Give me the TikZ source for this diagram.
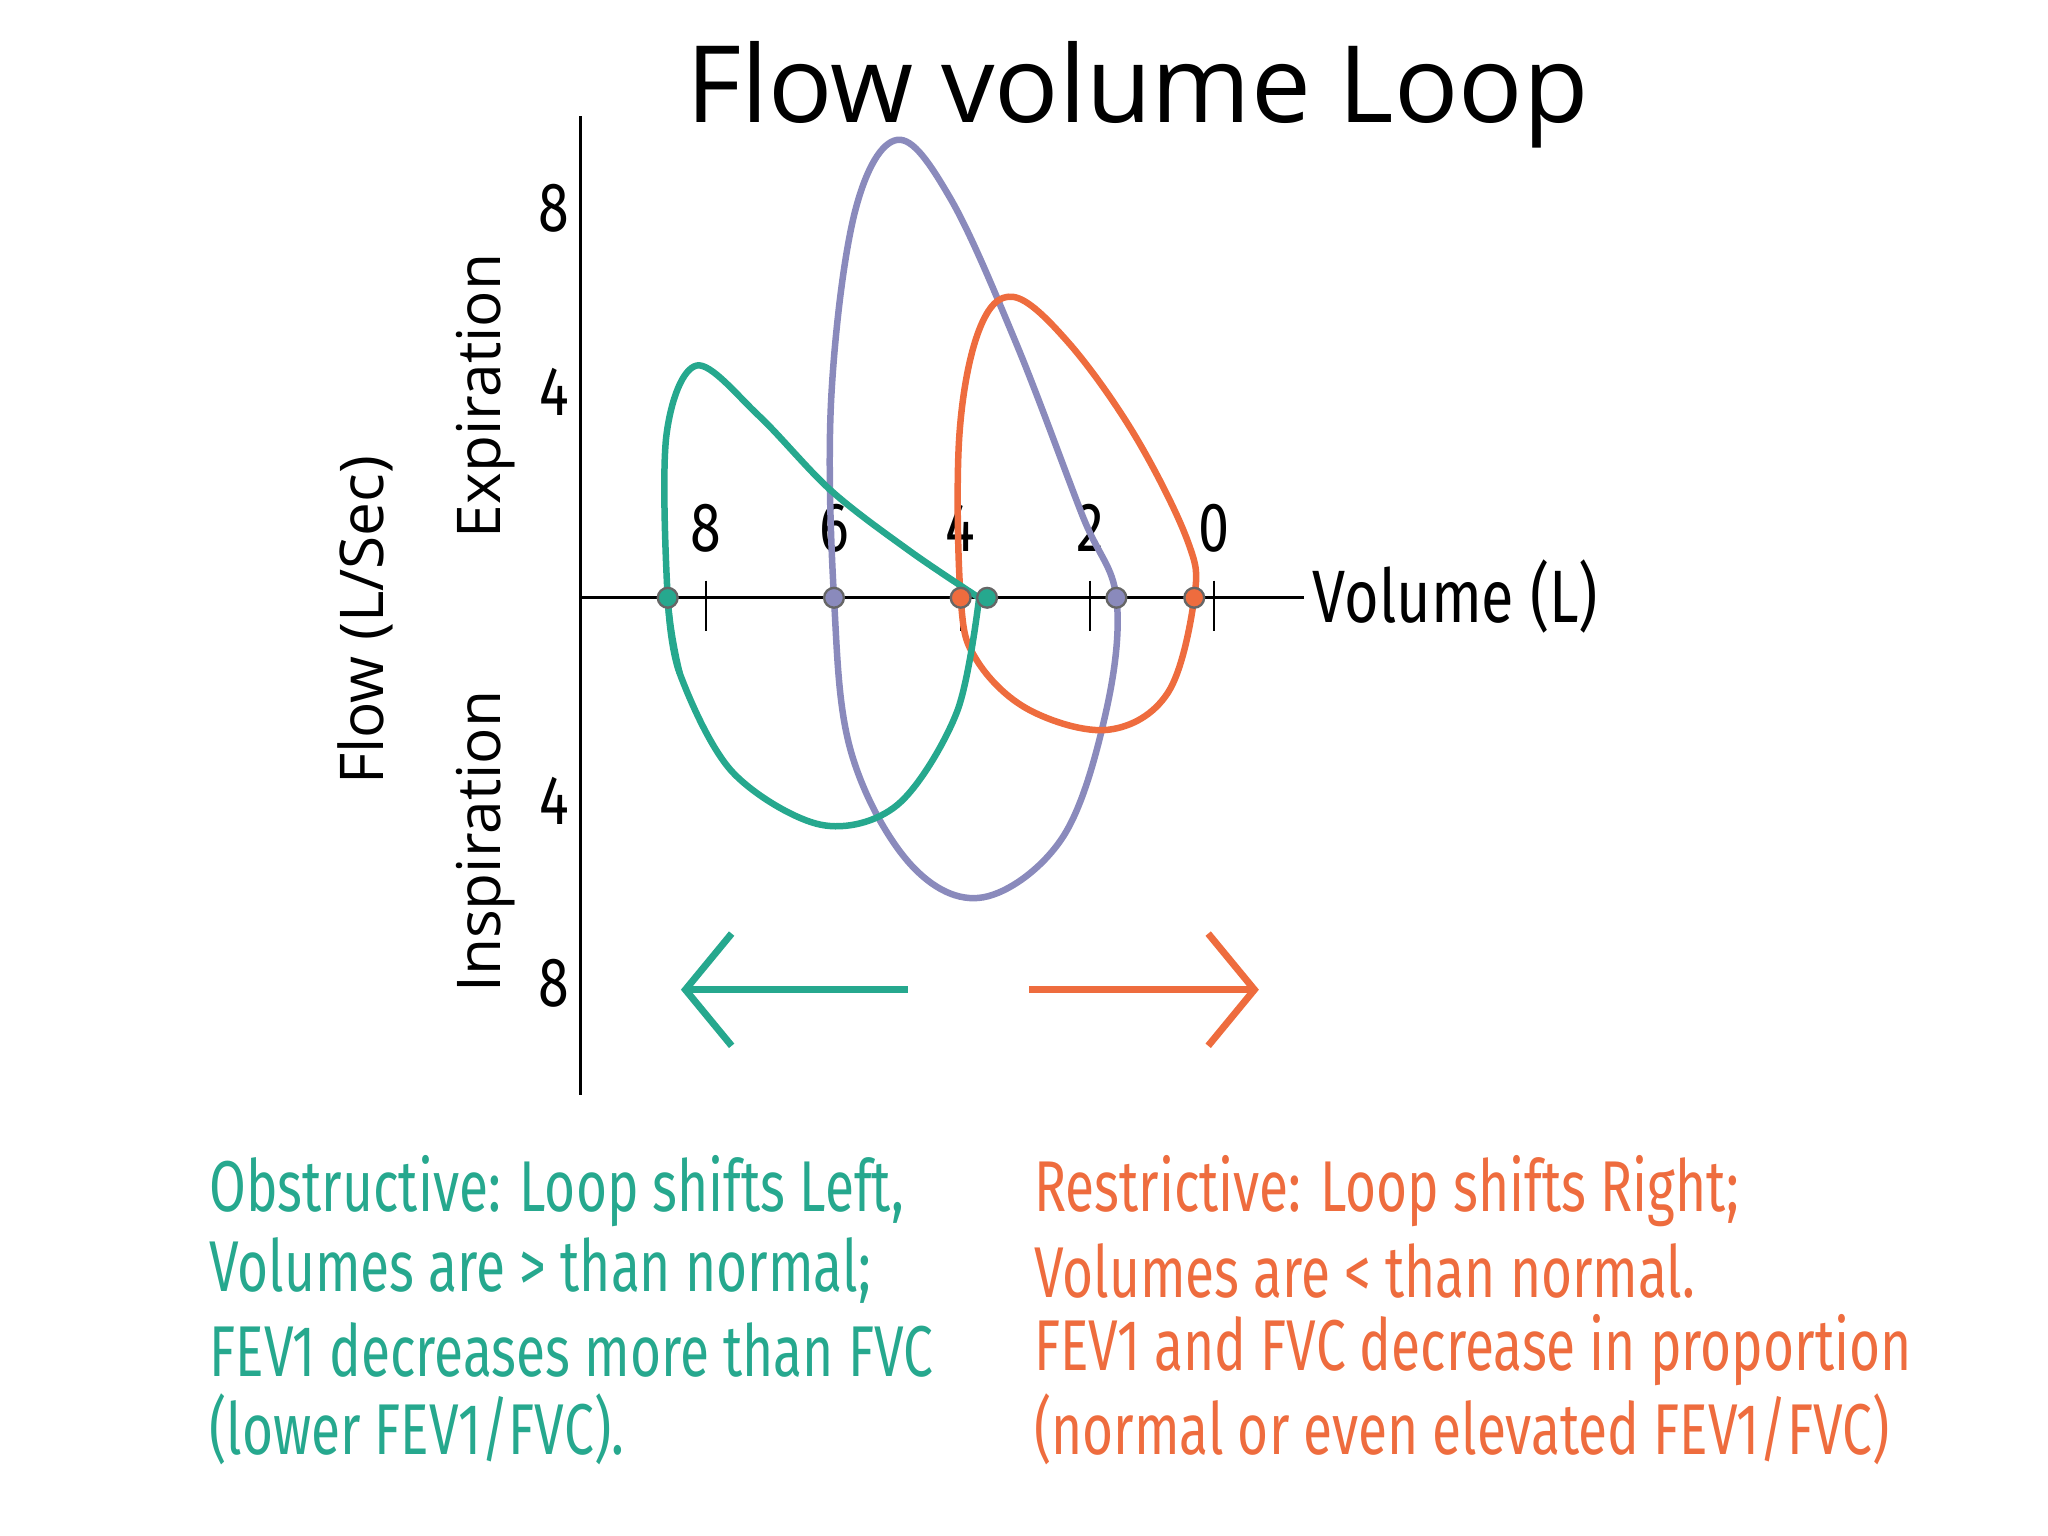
\documentclass[tikz,border=0pt]{standalone}
\usepackage{fontspec}
\setmainfont{Open Sans}
\newfontfamily\hand[FakeStretch=0.74]{Fira Sans}
\newfontfamily\handn[FakeStretch=0.8]{Fira Sans}
\usetikzlibrary{arrows.meta}
\definecolor{cgreen}{RGB}{38,168,142}
\definecolor{corange}{RGB}{238,108,62}
\definecolor{cpurple}{RGB}{138,138,188}
\tikzset{loop/.style={line width=1.4pt,line join=round},
  dot/.style={circle,inner sep=0pt,minimum size=0.15cm,draw=black!60,line width=0.5pt},
  tick/.style={font=\handn\fontsize{15}{15}\selectfont},
  desc/.style={anchor=west,font=\hand\fontsize{15.5}{15.5}\selectfont,inner sep=0pt},
  bigarrow/.style={line width=1.5pt,-{Straight Barb[length=0.35cm,width=0.85cm,line width=1.5pt]}}}
\begin{document}
\begin{tikzpicture}[x=0.01cm,y=-0.01cm]
\useasboundingbox (0,0) rectangle (1552,1164);
\node (title) at (862,72) {\fontsize{23}{23}\selectfont Flow volume Loop};
% axes
\draw[line width=0.7pt] (440,88) -- (440,830);
\draw[line width=0.7pt] (440,453) -- (988,453);
\foreach \x/\l in {535/8,632/6,728/4,826/2,920/0}{
  \draw[line width=0.5pt] (\x,440) -- (\x,478);
  \node[tick] (xl\l) at (\x,400) {\l};}
\node[tick] (y8a) at (420,158) {8};
\node[tick] (y4a) at (420,297) {4};
\node[tick] (y4b) at (420,607) {4};
\node[tick] (y8b) at (420,745) {8};
\node[rotate=90,font=\fontsize{13}{13}\selectfont] (exp) at (368,300) {Expiration};
\node[rotate=90,font=\fontsize{13}{13}\selectfont] (insp) at (368,638) {Inspiration};
\node[rotate=90,font=\fontsize{13}{13}\selectfont] (flow) at (277,470) {Flow (L/Sec)};
\node[font=\handn\fontsize{16}{16}\selectfont] (vol) at (1103,452) {Volume (L)};
% loops
\draw[loop,cpurple] plot[smooth cycle,tension=0.6] coordinates {(632,453) (630,300) (648,160) (680,106) (720,150) (770,260) (820,390) (846,453) (838,540) (805,635) (745,680) (690,655) (645,570)};
\draw[loop,corange] plot[smooth cycle,tension=0.6] coordinates {(728,453) (727,330) (742,250) (768,225) (810,260) (860,330) (900,410) (905,453) (885,525) (840,553) (780,538) (740,500)};
\draw[loop,cgreen] plot[smooth,tension=0.55] coordinates {(515,510) (506,453) (505,330) (528,277) (575,315) (630,372) (690,418) (742,453)};
\draw[loop,cgreen] plot[smooth,tension=0.55] coordinates {(742,453) (725,540) (680,610) (622,625) (555,585) (515,510) (506,453)};
% dots
\node[dot,fill=cgreen] (g1) at (506,453) {};
\node[dot,fill=cpurple] (p1) at (632,453) {};
\node[dot,fill=corange] (o1) at (728,453) {};
\node[dot,fill=cgreen] (g2) at (748,453) {};
\node[dot,fill=cpurple] (p2) at (846,453) {};
\node[dot,fill=corange] (o2) at (905,453) {};
% arrows
\coordinate (ga) at (688,750); \coordinate (gb) at (516,750);
\coordinate (oa) at (780,750); \coordinate (ob) at (954,750);
\draw[bigarrow,cgreen] (ga) -- (gb);
\draw[bigarrow,corange] (oa) -- (ob);
% texts
\node[desc,cgreen] (t1) at (158,903) {Obstructive: Loop shifts Left,};
\node[desc,cgreen] (t2) at (158,963) {Volumes are > than normal;};
\node[desc,cgreen] (t3) at (158,1023) {FEV1 decreases more than FVC};
\node[desc,cgreen] (t4) at (158,1083) {(lower FEV1/FVC).};
\node[desc,corange] (r1) at (783,903) {Restrictive: Loop shifts Right;};
\node[desc,corange] (r2) at (783,963) {Volumes are < than normal.};
\node[desc,corange] (r3) at (783,1023) {FEV1 and FVC decrease in proportion};
\node[desc,corange] (r4) at (783,1083) {(normal or even elevated FEV1/FVC)};
\end{tikzpicture}
\end{document}
